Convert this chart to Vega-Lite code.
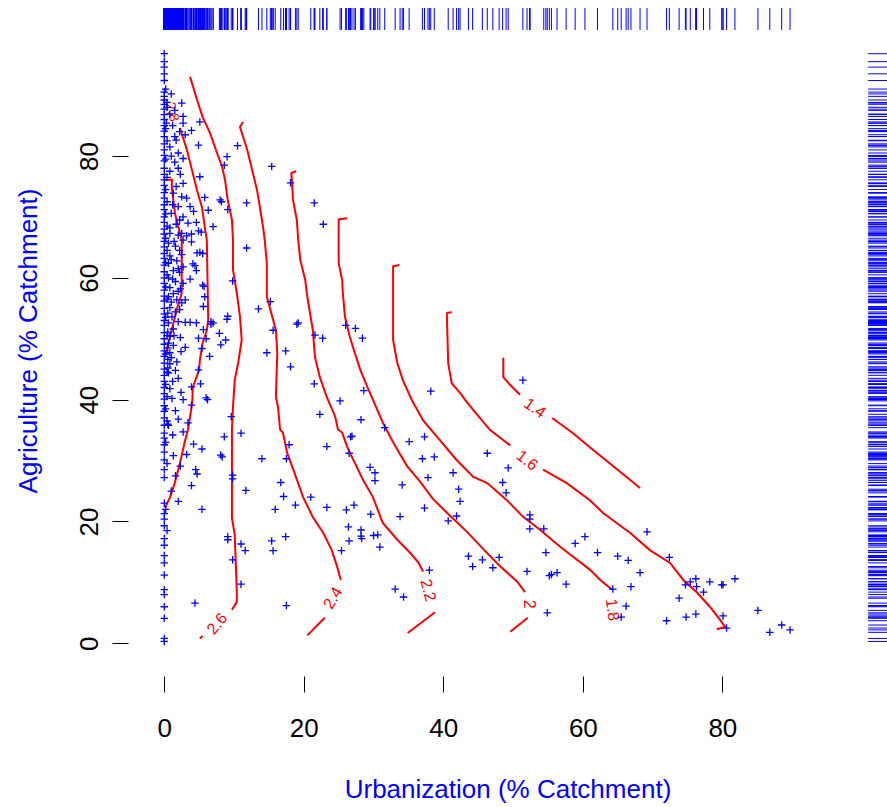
{
  "$schema": "https://vega.github.io/schema/vega-lite/v6.json",
  "width": 759,
  "height": 671,
  "autosize": {"type": "none"},
  "padding": {"left": 128, "top": 5, "right": 0, "bottom": 131},
  "background": "white",
  "view": {"stroke": null},
  "config": {"font": "Liberation Sans"},
  "datasets": {
    "pts": [
      {"x":0,"y":96.8},{"x":0,"y":95.5},{"x":0,"y":94.6},{"x":0,"y":93.5},{"x":0,"y":92.4},{"x":0,"y":90.5},{"x":0,"y":89.8},{"x":0,"y":89.2},{"x":0,"y":88.5},{"x":0,"y":87.7},{"x":0,"y":86.8},{"x":0,"y":86.0},{"x":0,"y":85.0},{"x":0,"y":84.1},{"x":0,"y":83.2},{"x":0,"y":82.0},{"x":0,"y":81.0},{"x":0,"y":80.1},{"x":0,"y":79.2},{"x":0,"y":78.0},{"x":0,"y":77.0},{"x":0,"y":76.1},{"x":0,"y":75.2},{"x":0,"y":74.0},{"x":0,"y":73.1},{"x":0,"y":72.0},{"x":0,"y":71.2},{"x":0,"y":70.0},{"x":0,"y":69.1},{"x":0,"y":68.0},{"x":0,"y":67.2},{"x":0,"y":66.0},{"x":0,"y":65.1},{"x":0,"y":64.0},{"x":0,"y":63.2},{"x":0,"y":62.1},{"x":0,"y":61.0},{"x":0,"y":60.0},{"x":0,"y":59.1},{"x":0,"y":58.0},{"x":0,"y":57.0},{"x":0,"y":56.2},{"x":0,"y":55.0},{"x":0,"y":54.1},{"x":0,"y":53.0},{"x":0,"y":52.2},{"x":0,"y":51.0},{"x":0,"y":50.0},{"x":0,"y":49.1},{"x":0,"y":48.0},{"x":0,"y":47.1},{"x":0,"y":46.0},{"x":0,"y":45.0},{"x":0,"y":44.0},{"x":0,"y":43.0},{"x":0,"y":42.0},{"x":0,"y":41.0},{"x":0,"y":40.1},{"x":0,"y":39.0},{"x":0,"y":38.1},{"x":0,"y":37.0},{"x":0,"y":35.8},{"x":0,"y":34.5},{"x":0,"y":33.7},{"x":0,"y":32.6},{"x":0,"y":31.4},{"x":0,"y":30.1},{"x":0,"y":28.5},{"x":0,"y":27.2},{"x":0,"y":23.0},{"x":0,"y":21.3},{"x":0,"y":20.4},{"x":0,"y":19.3},{"x":0,"y":17.2},{"x":0,"y":16.1},{"x":0,"y":14.4},{"x":0,"y":13.2},{"x":0,"y":11.2},{"x":0,"y":8.8},{"x":0,"y":8.0},{"x":0,"y":6.0},{"x":0,"y":4.1},{"x":0,"y":0.8},{"x":0,"y":0.3},
      {"x":0.2,"y":91.0},{"x":0.4,"y":88.0},{"x":0.2,"y":84.5},{"x":0.4,"y":82.5},{"x":0.2,"y":79.5},{"x":0.4,"y":76.5},{"x":0.2,"y":74.5},{"x":0.4,"y":72.5},{"x":0.2,"y":70.5},{"x":0.4,"y":68.5},{"x":0.2,"y":66.5},{"x":0.4,"y":64.5},{"x":0.2,"y":62.5},{"x":0.4,"y":60.5},{"x":0.2,"y":58.5},{"x":0.4,"y":56.5},{"x":0.2,"y":53.5},{"x":0.4,"y":50.5},{"x":0.2,"y":47.5},{"x":0.4,"y":44.5},{"x":0.2,"y":42.5},{"x":0.4,"y":40.5},{"x":0.2,"y":38.5},{"x":0.4,"y":36.5},{"x":0.2,"y":33.0},{"x":0.4,"y":29.5},{"x":0.2,"y":22.0},{"x":0.4,"y":18.5},
      {"x":1.0,"y":90.2},{"x":1.5,"y":87.5},{"x":1.2,"y":85.0},{"x":2.2,"y":84.0},{"x":1.0,"y":80.0},{"x":2.3,"y":77.0},{"x":1.2,"y":72.0},{"x":2.2,"y":69.5},{"x":1.4,"y":66.0},{"x":2.2,"y":64.5},{"x":1.0,"y":63.0},{"x":2.0,"y":61.5},{"x":1.2,"y":59.8},{"x":2.3,"y":58.2},{"x":1.0,"y":56.0},{"x":2.2,"y":54.8},{"x":1.4,"y":50.5},{"x":2.3,"y":50.2},{"x":1.0,"y":46.9},{"x":1.6,"y":44.8},{"x":1.2,"y":43.0},{"x":2.4,"y":41.2},{"x":1.6,"y":38.2},{"x":2.0,"y":36.8},{"x":1.2,"y":34.2},{"x":3.2,"y":31.0},{"x":1.6,"y":27.5},{"x":1.0,"y":25.0},
      {"x":1.5,"y":83.2},{"x":1.7,"y":82.6},{"x":0.8,"y":81.5},{"x":2.0,"y":80.5},{"x":2.7,"y":79.6},{"x":1.5,"y":79.0},{"x":2.0,"y":78.0},{"x":0.8,"y":77.5},{"x":2.7,"y":75.5},{"x":1.7,"y":75.0},{"x":1.3,"y":73.9},{"x":2.5,"y":73.3},{"x":3.2,"y":73.1},{"x":3.7,"y":71.7},{"x":2.0,"y":71.7},{"x":4.2,"y":70.9},{"x":1.0,"y":70.6},{"x":2.7,"y":70.0},{"x":3.4,"y":69.0},{"x":1.7,"y":68.8},{"x":0.8,"y":68.2},{"x":2.5,"y":67.3},{"x":3.9,"y":67.2},{"x":3.2,"y":66.9},{"x":0.4,"y":88.8},{"x":0.8,"y":86.9},{"x":0.3,"y":85.4},
      {"x":2.5,"y":88.7},{"x":2.7,"y":86.5},{"x":2.7,"y":85.4},{"x":5.1,"y":85.6},{"x":3.9,"y":84.2},{"x":3.0,"y":83.5},{"x":4.9,"y":81.8},{"x":10.5,"y":81.7},{"x":9.0,"y":79.9},{"x":8.6,"y":78.5},{"x":15.4,"y":78.3},{"x":5.1,"y":76.6},{"x":5.8,"y":73.2},{"x":8.0,"y":72.8},{"x":8.2,"y":72.5},{"x":9.1,"y":71.2},{"x":11.8,"y":72.3},{"x":18.1,"y":75.6},{"x":21.5,"y":72.3},{"x":22.8,"y":68.8},{"x":6.3,"y":71.1},{"x":7.0,"y":68.4},{"x":4.6,"y":69.1},{"x":4.9,"y":67.7},{"x":5.3,"y":67.5},
      {"x":0.8,"y":67.3},{"x":2.0,"y":67.0},{"x":2.7,"y":66.2},{"x":0.6,"y":65.7},{"x":1.6,"y":65.2},{"x":2.5,"y":63.8},{"x":0.8,"y":63.6},{"x":1.8,"y":62.8},{"x":0.6,"y":62.4},{"x":2.7,"y":61.8},{"x":1.3,"y":61.2},{"x":2.2,"y":60.9},{"x":0.6,"y":60.0},{"x":1.6,"y":59.4},{"x":2.7,"y":59.1},{"x":0.8,"y":58.4},{"x":2.0,"y":57.8},{"x":1.3,"y":57.4},{"x":0.6,"y":56.9},{"x":1.8,"y":56.4},{"x":2.5,"y":55.9},{"x":0.8,"y":55.1},{"x":1.6,"y":54.4},{"x":0.5,"y":54.2},{"x":1.1,"y":53.6},{"x":2.0,"y":52.8},{"x":0.6,"y":52.6},{"x":1.3,"y":51.6},{"x":0.5,"y":51.1},{"x":0.8,"y":50.4},{"x":0.6,"y":49.3},{"x":1.3,"y":48.9},{"x":0.5,"y":48.5},{"x":0.8,"y":47.7},{"x":0.5,"y":46.6},{"x":0.8,"y":45.9},{"x":0.5,"y":45.2},{"x":0.6,"y":44.4},{"x":1.1,"y":40.2},{"x":0.8,"y":41.8},
      {"x":11.8,"y":64.9},{"x":3.9,"y":65.9},{"x":5.1,"y":64.2},{"x":5.5,"y":64.0},{"x":4.7,"y":64.1},{"x":4.1,"y":62.3},{"x":4.4,"y":62.0},{"x":4.6,"y":61.2},{"x":3.7,"y":59.8},{"x":5.5,"y":58.8},{"x":5.7,"y":58.6},{"x":9.8,"y":59.5},{"x":5.8,"y":56.9},{"x":3.0,"y":56.4},{"x":5.6,"y":55.3},{"x":15.2,"y":56.1},{"x":13.5,"y":54.9},{"x":9.1,"y":53.7},{"x":9.0,"y":53.2},{"x":6.7,"y":52.8},{"x":7.0,"y":52.6},{"x":6.7,"y":52.4},{"x":3.0,"y":52.7},{"x":3.7,"y":52.7},{"x":4.6,"y":52.6},{"x":15.6,"y":51.4},{"x":19.0,"y":52.4},{"x":19.2,"y":52.6},{"x":21.6,"y":50.6},{"x":22.7,"y":50.1},{"x":7.9,"y":50.9},{"x":8.8,"y":49.8},{"x":8.1,"y":49.0},{"x":5.6,"y":51.5},{"x":6.0,"y":50.0},{"x":4.9,"y":50.1},{"x":3.0,"y":48.6},{"x":2.4,"y":47.9},{"x":5.4,"y":48.4},{"x":14.7,"y":47.7},{"x":17.4,"y":48.0},{"x":6.5,"y":47.1},{"x":18.1,"y":45.4},{"x":1.8,"y":46.2},{"x":2.0,"y":43.5},{"x":4.9,"y":44.9},{"x":5.2,"y":42.6},{"x":3.9,"y":42.1},{"x":21.5,"y":42.6},{"x":6.0,"y":40.3},{"x":6.2,"y":40.0},{"x":2.7,"y":40.0},{"x":3.9,"y":39.1},{"x":25.2,"y":39.8},{"x":22.3,"y":37.6},{"x":9.6,"y":37.2},{"x":3.4,"y":36.2},{"x":0.5,"y":36.0},
      {"x":0.6,"y":35.8},{"x":2.7,"y":34.7},{"x":8.6,"y":33.9},{"x":11.0,"y":34.5},{"x":4.2,"y":32.7},{"x":5.4,"y":31.9},{"x":1.3,"y":30.8},{"x":8.1,"y":30.9},{"x":8.3,"y":30.6},{"x":14.0,"y":30.3},{"x":17.9,"y":32.6},{"x":17.5,"y":30.3},{"x":23.3,"y":32.3},{"x":2.3,"y":29.1},{"x":4.5,"y":28.5},{"x":4.7,"y":27.8},{"x":9.8,"y":27.6},{"x":9.8,"y":27.0},{"x":3.9,"y":25.9},{"x":11.7,"y":25.1},{"x":16.7,"y":26.4},{"x":17.1,"y":24.1},{"x":21.0,"y":24.0},{"x":2.0,"y":23.3},{"x":5.4,"y":22.0},{"x":15.9,"y":22.0},{"x":18.8,"y":22.7},{"x":23.3,"y":22.3},{"x":26.1,"y":21.9},{"x":26.4,"y":19.1},{"x":9.1,"y":17.5},{"x":9.1,"y":17.0},{"x":11.0,"y":16.3},{"x":11.6,"y":15.2},{"x":15.4,"y":16.8},{"x":15.6,"y":15.2},{"x":17.4,"y":17.5},{"x":25.4,"y":15.2},{"x":9.8,"y":13.7},{"x":11.0,"y":9.7},{"x":4.4,"y":6.6},{"x":17.5,"y":6.2},
      {"x":28.6,"y":41.5},{"x":38.2,"y":41.4},{"x":28.2,"y":36.7},{"x":31.6,"y":35.4},{"x":26.7,"y":33.9},{"x":26.9,"y":34.0},{"x":35.1,"y":33.1},{"x":37.3,"y":33.9},{"x":26.5,"y":31.2},{"x":37.0,"y":30.3},{"x":38.7,"y":30.6},{"x":46.3,"y":31.2},{"x":29.5,"y":28.9},{"x":30.2,"y":28.0},{"x":30.2,"y":26.7},{"x":34.1,"y":26.0},{"x":37.8,"y":27.2},{"x":41.4,"y":28.0},{"x":49.3,"y":28.8},{"x":48.5,"y":26.4},{"x":49.0,"y":24.7},{"x":42.2,"y":25.3},{"x":42.4,"y":23.3},{"x":27.2,"y":22.7},{"x":29.6,"y":21.2},{"x":33.8,"y":20.8},{"x":37.3,"y":22.2},{"x":41.9,"y":20.9},{"x":40.7,"y":20.1},{"x":52.4,"y":21.1},{"x":52.4,"y":20.4},{"x":52.4,"y":18.8},{"x":54.4,"y":18.8},{"x":28.2,"y":18.6},{"x":28.3,"y":17.2},{"x":28.2,"y":17.6},{"x":30.0,"y":17.7},{"x":30.6,"y":17.8},{"x":30.9,"y":15.8},{"x":26.5,"y":16.8},{"x":43.6,"y":14.3},{"x":45.6,"y":13.7},{"x":48.0,"y":14.1},{"x":44.2,"y":12.6},{"x":47.1,"y":12.4},{"x":38.0,"y":12.0},{"x":52.0,"y":11.8},{"x":54.7,"y":14.9},{"x":58.9,"y":16.4},{"x":60.3,"y":17.5},{"x":55.2,"y":11.1},{"x":55.5,"y":11.3},{"x":56.3,"y":11.6},{"x":57.6,"y":9.7},{"x":54.9,"y":5.0},{"x":33.1,"y":8.9},{"x":34.3,"y":7.6},{"x":51.4,"y":43.2},
      {"x":26.0,"y":52.2},{"x":27.4,"y":51.7},{"x":28.4,"y":50.1},
      {"x":69.2,"y":18.3},{"x":62.1,"y":14.9},{"x":65.0,"y":14.3},{"x":66.5,"y":13.6},{"x":72.4,"y":14.1},{"x":68.2,"y":11.6},{"x":66.9,"y":9.3},{"x":64.3,"y":8.9},{"x":66.2,"y":6.1},{"x":65.5,"y":4.3},{"x":72.0,"y":3.7},{"x":74.8,"y":4.3},{"x":76.2,"y":4.8},{"x":73.8,"y":7.4},{"x":74.7,"y":9.6},{"x":75.4,"y":10.1},{"x":76.2,"y":10.6},{"x":76.3,"y":9.3},{"x":77.3,"y":8.4},{"x":78.2,"y":10.1},{"x":79.9,"y":9.6},{"x":80.1,"y":9.6},{"x":81.8,"y":10.6},{"x":80.1,"y":4.5},{"x":80.6,"y":2.5},{"x":85.1,"y":5.4},{"x":86.8,"y":1.8},{"x":88.5,"y":3.0},{"x":89.7,"y":2.2}
    ],
    "cont": [
      {"c":"b","o":1,"x":0.0,"y":76.1},{"c":"b","o":2,"x":1.1,"y":76.1},{"c":"b","o":3,"x":1.06,"y":75.0},{"c":"b","o":4,"x":1.53,"y":70.6},{"c":"b","o":5,"x":2.0,"y":68.4},{"c":"b","o":6,"x":2.5,"y":66.2},{"c":"b","o":7,"x":2.5,"y":57.5},{"c":"b","o":8,"x":1.78,"y":54.7},{"c":"b","o":9,"x":1.29,"y":52.5},{"c":"b","o":10,"x":0.82,"y":50.3},{"c":"b","o":11,"x":0.1,"y":47.1},
      {"c":"a","o":1,"x":2.25,"y":84.6},{"c":"a","o":2,"x":3.25,"y":81.0},{"c":"a","o":3,"x":3.97,"y":77.7},{"c":"a","o":4,"x":4.69,"y":74.4},{"c":"a","o":5,"x":5.4,"y":71.6},{"c":"a","o":6,"x":5.8,"y":68.4},{"c":"a","o":7,"x":6.1,"y":66.2},{"c":"a","o":8,"x":6.3,"y":53.1},{"c":"a","o":9,"x":6.1,"y":51.4},{"c":"a","o":10,"x":5.5,"y":49.3},{"c":"a","o":11,"x":5.1,"y":46.5},{"c":"a","o":12,"x":5.0,"y":44.9},{"c":"a","o":13,"x":4.1,"y":42.1},{"c":"a","o":14,"x":4.0,"y":39.5},{"c":"a","o":15,"x":3.7,"y":37.2},{"c":"a","o":16,"x":3.4,"y":35.1},{"c":"a","o":17,"x":3.0,"y":33.4},{"c":"a","o":18,"x":2.25,"y":29.6},{"c":"a","o":19,"x":1.5,"y":26.3},{"c":"a","o":20,"x":0.82,"y":24.0},{"c":"a","o":21,"x":0.1,"y":22.2},
      {"c":"c26a","o":1,"x":3.7,"y":93.0},{"c":"c26a","o":2,"x":4.7,"y":89.2},{"c":"c26a","o":3,"x":5.5,"y":86.4},{"c":"c26a","o":4,"x":6.55,"y":83.8},{"c":"c26a","o":5,"x":7.56,"y":80.5},{"c":"c26a","o":6,"x":8.3,"y":78.2},{"c":"c26a","o":7,"x":8.7,"y":76.1},{"c":"c26a","o":8,"x":9.1,"y":72.8},{"c":"c26a","o":9,"x":9.7,"y":69.5},{"c":"c26a","o":10,"x":9.85,"y":66.2},{"c":"c26a","o":11,"x":9.85,"y":61.3},{"c":"c26a","o":12,"x":10.4,"y":57.5},{"c":"c26a","o":13,"x":10.85,"y":53.6},{"c":"c26a","o":14,"x":11.1,"y":49.8},{"c":"c26a","o":15,"x":10.6,"y":46.1},{"c":"c26a","o":16,"x":10.1,"y":43.2},{"c":"c26a","o":17,"x":9.85,"y":38.8},{"c":"c26a","o":18,"x":9.7,"y":35.1},{"c":"c26a","o":19,"x":9.7,"y":20.6},{"c":"c26a","o":20,"x":10.1,"y":17.8},{"c":"c26a","o":21,"x":10.4,"y":8.4},{"c":"c26a","o":22,"x":10.4,"y":6.8},{"c":"c26a","o":23,"x":9.7,"y":5.5},
      {"c":"c26b","o":1,"x":5.5,"y":1.2},{"c":"c26b","o":2,"x":5.1,"y":0.8},
      {"c":"c24a","o":1,"x":11.3,"y":85.6},{"c":"c24a","o":2,"x":10.85,"y":84.8},{"c":"c24a","o":3,"x":11.9,"y":81.0},{"c":"c24a","o":4,"x":12.7,"y":77.2},{"c":"c24a","o":5,"x":13.3,"y":74.4},{"c":"c24a","o":6,"x":13.7,"y":71.6},{"c":"c24a","o":7,"x":14.15,"y":68.4},{"c":"c24a","o":8,"x":14.4,"y":66.2},{"c":"c24a","o":9,"x":14.7,"y":62.4},{"c":"c24a","o":10,"x":14.7,"y":56.9},{"c":"c24a","o":11,"x":15.6,"y":53.1},{"c":"c24a","o":12,"x":16.0,"y":51.4},{"c":"c24a","o":13,"x":16.2,"y":47.7},{"c":"c24a","o":14,"x":16.0,"y":40.5},{"c":"c24a","o":15,"x":16.3,"y":38.8},{"c":"c24a","o":16,"x":16.6,"y":35.1},{"c":"c24a","o":17,"x":17.0,"y":34.6},{"c":"c24a","o":18,"x":17.6,"y":31.3},{"c":"c24a","o":19,"x":18.5,"y":28.5},{"c":"c24a","o":20,"x":19.9,"y":24.0},{"c":"c24a","o":21,"x":21.3,"y":20.7},{"c":"c24a","o":22,"x":22.8,"y":18.1},{"c":"c24a","o":23,"x":24.0,"y":15.3},{"c":"c24a","o":24,"x":24.8,"y":12.5},{"c":"c24a","o":25,"x":25.3,"y":10.4},
      {"c":"c24b","o":1,"x":23.0,"y":4.2},{"c":"c24b","o":2,"x":20.5,"y":1.3},
      {"c":"c22a","o":1,"x":18.9,"y":77.5},{"c":"c22a","o":2,"x":18.2,"y":77.2},{"c":"c22a","o":3,"x":18.3,"y":76.1},{"c":"c22a","o":4,"x":18.45,"y":72.8},{"c":"c22a","o":5,"x":19.0,"y":69.5},{"c":"c22a","o":6,"x":19.2,"y":66.2},{"c":"c22a","o":7,"x":19.5,"y":62.9},{"c":"c22a","o":8,"x":20.2,"y":59.7},{"c":"c22a","o":9,"x":20.5,"y":56.9},{"c":"c22a","o":10,"x":21.3,"y":51.4},{"c":"c22a","o":11,"x":21.6,"y":47.0},{"c":"c22a","o":12,"x":22.3,"y":43.7},{"c":"c22a","o":13,"x":23.3,"y":40.4},{"c":"c22a","o":14,"x":24.5,"y":37.2},{"c":"c22a","o":15,"x":24.9,"y":35.1},{"c":"c22a","o":16,"x":25.5,"y":34.6},{"c":"c22a","o":17,"x":26.2,"y":32.3},{"c":"c22a","o":18,"x":26.6,"y":31.3},{"c":"c22a","o":19,"x":28.5,"y":26.8},{"c":"c22a","o":20,"x":29.9,"y":24.0},{"c":"c22a","o":21,"x":31.3,"y":19.8},{"c":"c22a","o":22,"x":33.4,"y":17.0},{"c":"c22a","o":23,"x":35.2,"y":14.9},{"c":"c22a","o":24,"x":36.4,"y":13.3},{"c":"c22a","o":25,"x":37.1,"y":11.8},
      {"c":"c22b","o":1,"x":38.8,"y":5.1},{"c":"c22b","o":2,"x":34.9,"y":1.7},
      {"c":"c20a","o":1,"x":26.2,"y":69.8},{"c":"c20a","o":2,"x":25.0,"y":69.6},{"c":"c20a","o":3,"x":25.0,"y":62.4},{"c":"c20a","o":4,"x":25.5,"y":59.6},{"c":"c20a","o":5,"x":25.6,"y":57.5},{"c":"c20a","o":6,"x":25.9,"y":53.6},{"c":"c20a","o":7,"x":26.6,"y":50.3},{"c":"c20a","o":8,"x":27.3,"y":47.7},{"c":"c20a","o":9,"x":28.1,"y":44.9},{"c":"c20a","o":10,"x":29.1,"y":42.1},{"c":"c20a","o":11,"x":29.9,"y":40.0},{"c":"c20a","o":12,"x":31.3,"y":36.3},{"c":"c20a","o":13,"x":32.8,"y":33.0},{"c":"c20a","o":14,"x":34.8,"y":29.1},{"c":"c20a","o":15,"x":36.7,"y":26.5},{"c":"c20a","o":16,"x":38.5,"y":23.7},{"c":"c20a","o":17,"x":41.0,"y":20.9},{"c":"c20a","o":18,"x":43.4,"y":18.3},{"c":"c20a","o":19,"x":45.7,"y":15.5},{"c":"c20a","o":20,"x":48.1,"y":12.7},{"c":"c20a","o":21,"x":50.6,"y":10.1},{"c":"c20a","o":22,"x":51.7,"y":8.4},
      {"c":"c20b","o":1,"x":52.1,"y":4.2},{"c":"c20b","o":2,"x":49.6,"y":1.9},
      {"c":"c18a","o":1,"x":33.7,"y":62.1},{"c":"c18a","o":2,"x":32.8,"y":61.9},{"c":"c18a","o":3,"x":32.8,"y":49.8},{"c":"c18a","o":4,"x":33.4,"y":46.0},{"c":"c18a","o":5,"x":34.2,"y":43.2},{"c":"c18a","o":6,"x":35.5,"y":39.9},{"c":"c18a","o":7,"x":37.1,"y":36.6},{"c":"c18a","o":8,"x":39.1,"y":33.9},{"c":"c18a","o":9,"x":41.9,"y":30.1},{"c":"c18a","o":10,"x":44.3,"y":27.3},{"c":"c18a","o":11,"x":46.3,"y":26.3},{"c":"c18a","o":12,"x":49.1,"y":23.5},{"c":"c18a","o":13,"x":51.4,"y":20.8},{"c":"c18a","o":14,"x":53.9,"y":18.6},{"c":"c18a","o":15,"x":56.7,"y":15.9},{"c":"c18a","o":16,"x":58.6,"y":14.2},{"c":"c18a","o":17,"x":61.0,"y":12.1},{"c":"c18a","o":18,"x":62.5,"y":10.4},{"c":"c18a","o":19,"x":64.2,"y":8.8},
      {"c":"c16a","o":1,"x":41.2,"y":54.4},{"c":"c16a","o":2,"x":40.5,"y":54.2},{"c":"c16a","o":3,"x":40.7,"y":46.0},{"c":"c16a","o":4,"x":41.2,"y":42.7},{"c":"c16a","o":5,"x":42.4,"y":41.1},{"c":"c16a","o":6,"x":43.1,"y":40.0},{"c":"c16a","o":7,"x":44.3,"y":38.3},{"c":"c16a","o":8,"x":46.7,"y":35.0},{"c":"c16a","o":9,"x":49.6,"y":32.5},
      {"c":"c16b","o":1,"x":54.3,"y":28.5},{"c":"c16b","o":2,"x":57.7,"y":26.3},{"c":"c16b","o":3,"x":61.0,"y":23.5},{"c":"c16b","o":4,"x":62.9,"y":21.4},{"c":"c16b","o":5,"x":66.8,"y":18.1},{"c":"c16b","o":6,"x":69.6,"y":15.3},{"c":"c16b","o":7,"x":72.5,"y":13.2},{"c":"c16b","o":8,"x":74.4,"y":10.4},{"c":"c16b","o":9,"x":76.4,"y":8.3},{"c":"c16b","o":10,"x":78.2,"y":6.0},{"c":"c16b","o":11,"x":79.7,"y":3.8},{"c":"c16b","o":12,"x":80.4,"y":2.7},{"c":"c16b","o":13,"x":79.2,"y":2.3},
      {"c":"c14a","o":1,"x":48.6,"y":46.9},{"c":"c14a","o":2,"x":48.6,"y":43.7},{"c":"c14a","o":3,"x":49.6,"y":42.4},{"c":"c14a","o":4,"x":51.0,"y":40.8},
      {"c":"c14b","o":1,"x":55.6,"y":37.0},{"c":"c14b","o":2,"x":58.6,"y":34.5},{"c":"c14b","o":3,"x":61.0,"y":32.2},{"c":"c14b","o":4,"x":68.2,"y":25.5}
    ],
    "labs": [
      {"lab":"1.4","x":53.1,"y":38.6},{"lab":"1.6","x":52.0,"y":30.0},{"lab":"1.8","x":64.2,"y":5.5},{"lab":"2","x":52.3,"y":6.4},{"lab":"2.2","x":37.8,"y":8.7},{"lab":"2.4","x":24.2,"y":7.4},{"lab":"2.6","x":7.6,"y":3.2},{"lab":"2.8","x":1.1,"y":87.2}
    ]
  },
  "encoding": {
    "x": {"field": "x", "type": "quantitative",
      "scale": {"domain": [-5.2, 103.6], "nice": false, "zero": false},
      "axis": {"values": [0, 20, 40, 60, 80], "title": "Urbanization (% Catchment)", "domain": false, "grid": false,
        "tickSize": 16, "tickColor": "black", "tickWidth": 1,
        "labelFontSize": 26, "labelFont": "Liberation Sans", "labelColor": "black", "labelBaseline": "alphabetic", "labelPadding": 44, "labelFlush": false, "labelOverlap": false,
        "titleFont": "Liberation Sans", "titleFontSize": 26, "titleFontWeight": "normal", "titleColor": "#0000ff", "titleBaseline": "alphabetic", "titleY": 121}},
    "y": {"field": "y", "type": "quantitative",
      "scale": {"domain": [-5.37, 104.8], "nice": false, "zero": false},
      "axis": {"values": [0, 20, 40, 60, 80], "title": "Agriculture (% Catchment)", "domain": false, "grid": false,
        "tickSize": 16, "tickColor": "black", "tickWidth": 1,
        "labelFontSize": 26, "labelFont": "Liberation Sans", "labelColor": "black", "labelAngle": -90, "labelAlign": "center", "labelBaseline": "alphabetic", "labelPadding": 15, "labelFlush": false, "labelOverlap": false,
        "titleFont": "Liberation Sans", "titleFontSize": 26, "titleFontWeight": "normal", "titleColor": "#0000ff", "titleBaseline": "alphabetic", "titleX": -92, "titleAngle": 270}}
  },
  "layer": [
    {
      "data": {"name": "cont"},
      "mark": {"type": "line", "color": "#ff0000", "strokeWidth": 2, "interpolate": "linear"},
      "encoding": {"detail": {"field": "c"}, "order": {"field": "o", "type": "quantitative"}}
    },
    {"data": {"name": "labs"}, "transform": [{"filter": "datum.lab === '1.4'"}],
      "mark": {"type": "text", "color": "#ff0000", "fontSize": 16, "align": "center", "baseline": "middle", "angle": 35},
      "encoding": {"text": {"field": "lab"}}},
    {"data": {"name": "labs"}, "transform": [{"filter": "datum.lab === '1.6'"}],
      "mark": {"type": "text", "color": "#ff0000", "fontSize": 16, "align": "center", "baseline": "middle", "angle": 37},
      "encoding": {"text": {"field": "lab"}}},
    {"data": {"name": "labs"}, "transform": [{"filter": "datum.lab === '1.8'"}],
      "mark": {"type": "text", "color": "#ff0000", "fontSize": 16, "align": "center", "baseline": "middle", "angle": 82},
      "encoding": {"text": {"field": "lab"}}},
    {"data": {"name": "labs"}, "transform": [{"filter": "datum.lab === '2'"}],
      "mark": {"type": "text", "color": "#ff0000", "fontSize": 16, "align": "center", "baseline": "middle", "angle": 90},
      "encoding": {"text": {"field": "lab"}}},
    {"data": {"name": "labs"}, "transform": [{"filter": "datum.lab === '2.2'"}],
      "mark": {"type": "text", "color": "#ff0000", "fontSize": 16, "align": "center", "baseline": "middle", "angle": 75},
      "encoding": {"text": {"field": "lab"}}},
    {"data": {"name": "labs"}, "transform": [{"filter": "datum.lab === '2.4'"}],
      "mark": {"type": "text", "color": "#ff0000", "fontSize": 16, "align": "center", "baseline": "middle", "angle": 300},
      "encoding": {"text": {"field": "lab"}}},
    {"data": {"name": "labs"}, "transform": [{"filter": "datum.lab === '2.6'"}],
      "mark": {"type": "text", "color": "#ff0000", "fontSize": 16, "align": "center", "baseline": "middle", "angle": 310},
      "encoding": {"text": {"field": "lab"}}},
    {"data": {"name": "labs"}, "transform": [{"filter": "datum.lab === '2.8'"}],
      "mark": {"type": "text", "color": "#ff0000", "fontSize": 14, "align": "center", "baseline": "middle", "angle": 75},
      "encoding": {"text": {"field": "lab"}}},
    {
      "data": {"name": "pts"},
      "mark": {"type": "point", "shape": "M-1,0L1,0M0,-1L0,1", "size": 56, "filled": false, "color": "#0000ff", "strokeWidth": 1.3, "opacity": 1}
    },
    {
      "data": {"name": "pts"},
      "mark": {"type": "rule", "color": "#0000ff", "strokeWidth": 1},
      "encoding": {"y": {"datum": 100.7, "type": "quantitative"}, "y2": {"datum": 104.3}}
    },
    {
      "data": {"name": "pts"},
      "mark": {"type": "rule", "color": "#0000ff", "strokeWidth": 1},
      "encoding": {"x": {"datum": 100.9, "type": "quantitative"}, "x2": {"datum": 103.6}}
    },
    {
      "data": {"values": [{}]},
      "mark": {"type": "rule", "color": "#0000ff", "strokeWidth": 1},
      "encoding": {"x": {"datum": 0, "type": "quantitative"}, "x2": {"datum": 89.7}, "y": {"datum": 104.3, "type": "quantitative"}}
    },
    {
      "data": {"values": [{}]},
      "mark": {"type": "rule", "color": "black", "strokeWidth": 1},
      "encoding": {"x": {"datum": 0, "type": "quantitative"}, "x2": {"datum": 80}, "y": {"datum": -5.37, "type": "quantitative"}}
    },
    {
      "data": {"values": [{}]},
      "mark": {"type": "rule", "color": "black", "strokeWidth": 1},
      "encoding": {"y": {"datum": 0, "type": "quantitative"}, "y2": {"datum": 80}, "x": {"datum": -5.2, "type": "quantitative"}}
    }
  ]
}
